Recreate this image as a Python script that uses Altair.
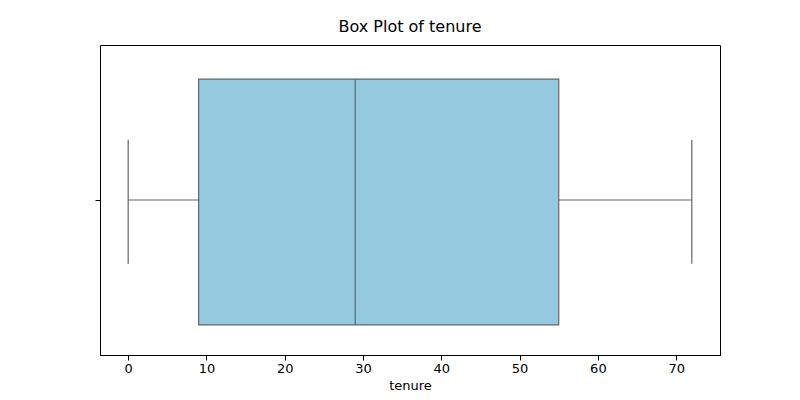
import pandas as pd
import altair as alt

# summary of tenure
stat_names = ["min", "q1", "median", "q3", "max"]
stat_values = [0, 9, 29, 55, 72]

s = dict(zip(stat_names, stat_values))
df = pd.DataFrame([s])

x_scale = alt.Scale(domain=[-3.6, 75.6], nice=False, zero=False)
y_scale = alt.Scale(domain=[0, 1], nice=False)
edge = "#666666"
fnt = "DejaVu Sans"

base = alt.Chart(df)

box = base.mark_rect(fill="#94c9df", stroke=edge, strokeWidth=1.2).encode(
    x=alt.X("q1:Q", scale=x_scale, title="tenure",
            axis=alt.Axis(values=[0, 10, 20, 30, 40, 50, 60, 70], grid=False,
                          labelFont=fnt, titleFont=fnt, labelFontSize=13,
                          titleFontSize=13, titleFontWeight="normal",
                          labelColor="black", titleColor="black",
                          domainColor="black", tickColor="black", tickSize=5)),
    x2="q3:Q",
    y=alt.Y("lo:Q", scale=y_scale, title=None,
            axis=alt.Axis(values=[0.5], labels=False, grid=False,
                          domainColor="black", tickColor="black", tickSize=5)),
    y2="hi:Q",
).transform_calculate(lo="0.097", hi="0.89")

whisk_lo = base.mark_rule(color=edge, strokeWidth=1.2).encode(
    x=alt.X("min:Q", scale=x_scale), x2="q1:Q", y=alt.datum(0.5, scale=y_scale) if False else alt.Y("mid:Q", scale=y_scale)
).transform_calculate(mid="0.5")
whisk_hi = base.mark_rule(color=edge, strokeWidth=1.2).encode(
    x=alt.X("q3:Q", scale=x_scale), x2="max:Q", y=alt.Y("mid:Q", scale=y_scale)
).transform_calculate(mid="0.5")

cap_lo = base.mark_rule(color=edge, strokeWidth=1.2).encode(
    x=alt.X("min:Q", scale=x_scale), y=alt.Y("a:Q", scale=y_scale), y2="b:Q"
).transform_calculate(a="0.294", b="0.694")
cap_hi = base.mark_rule(color=edge, strokeWidth=1.2).encode(
    x=alt.X("max:Q", scale=x_scale), y=alt.Y("a:Q", scale=y_scale), y2="b:Q"
).transform_calculate(a="0.294", b="0.694")

med = base.mark_rule(color="#4d6b75", strokeWidth=1.2).encode(
    x=alt.X("median:Q", scale=x_scale), y=alt.Y("lo:Q", scale=y_scale), y2="hi:Q"
).transform_calculate(lo="0.097", hi="0.89")

chart = alt.layer(whisk_lo, whisk_hi, cap_lo, cap_hi, box, med).properties(
    width=620, height=310,
    title=alt.TitleParams("Box Plot of tenure", font=fnt, fontSize=16,
                          fontWeight="normal", color="black", offset=10),
    autosize=alt.AutoSizeParams(type="none"),
    padding={"left": 92, "top": 37, "right": 20, "bottom": 40},
).configure_view(stroke="black", strokeWidth=1)

chart.save("out.html", embed_options={"renderer": "svg", "actions": False})
